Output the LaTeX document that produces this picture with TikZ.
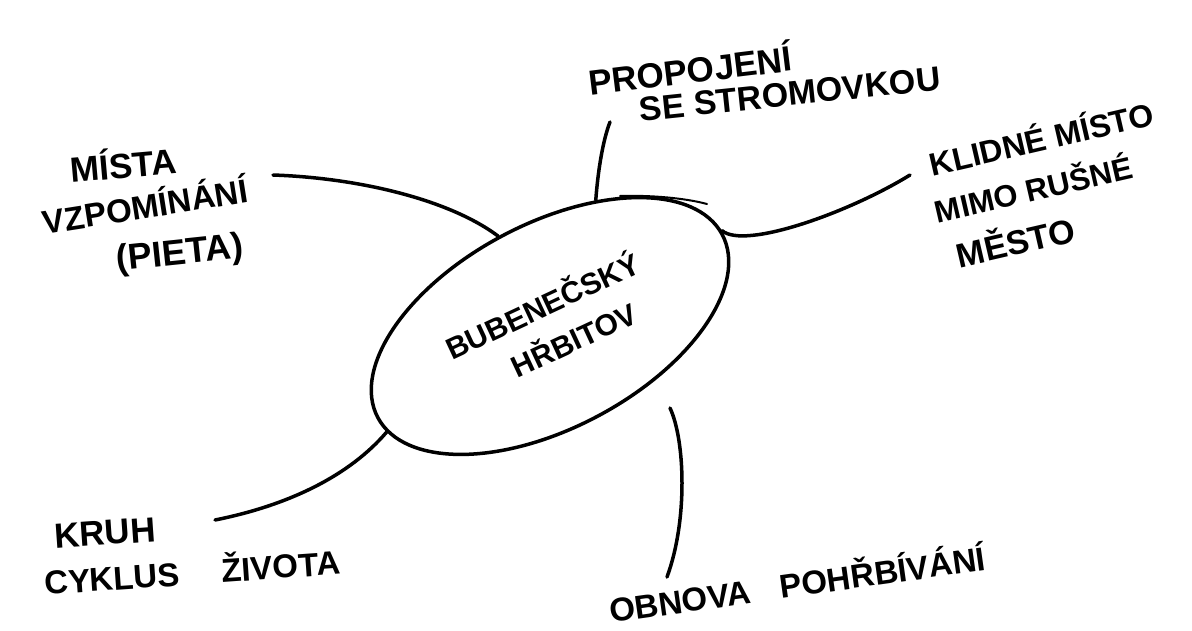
\documentclass[tikz,border=0pt]{standalone}
\usepackage{fontspec}
\setmainfont{Liberation Sans}
\usetikzlibrary{shapes.geometric}
\begin{document}
\begin{tikzpicture}[x=1pt,y=-1pt,
  lab/.style={inner sep=0pt, font=\bfseries\fontsize{#1}{#1}\selectfont},
  conn/.style={line width=3.5pt, line cap=round},
  hubstyle/.style={draw, ellipse, line width=3.5pt, minimum width=390pt, minimum height=204pt, inner sep=0pt, rotate=28}]
\useasboundingbox (0,0) rectangle (1192,630);
% central ellipse
\node[hubstyle] (hub) at (550,326) {};
\node[inner sep=0pt, align=left, rotate=25, font=\bfseries\fontsize{30}{44}\selectfont] (htext) at (551,324) {BUBENEČSKÝ\\\hspace*{52pt}HŘBITOV};
% top overshoot stroke of the ellipse
\draw[line width=2pt, line cap=round] (620,196) .. controls (650,195) and (685,198) .. (707,204);
% labels
\node[lab=35, rotate=7] (t1) at (690,68) {PROPOJENÍ};
\node[lab=34, rotate=6] (t2) at (790,94) {SE STROMOVKOU};
\node[lab=32, rotate=13] (r1) at (1041,137) {KLIDNÉ MÍSTO};
\node[lab=31, rotate=13] (r2) at (1033,187) {MIMO RUŠNÉ};
\node[lab=34, rotate=13] (r3) at (1015,240) {MĚSTO};
\node[lab=35, rotate=5] (l1) at (123,163) {MÍSTA};
\node[lab=33, rotate=9] (l2) at (145,204) {VZPOMÍNÁNÍ};
\node[lab=36, rotate=6] (l3) at (180,255) {(PIETA)};
\node[lab=35, rotate=4] (b1) at (105,533) {KRUH};
\node[lab=33, rotate=4] (b2) at (192,570) {CYKLUS\hspace{42pt}ŽIVOTA};
\node[lab=33, rotate=8] (b3) at (797,582) {OBNOVA\hspace{30pt}POHŘBÍVÁNÍ};
% connector ends
\coordinate (ctop) at (610,122);
\coordinate (cright) at (910,175);
\coordinate (cleft) at (273,175);
\coordinate (cbl) at (215,520);
\coordinate (cbs) at (670,408);
\coordinate (cbe) at (667,577);
% connectors
\draw[conn] (hub.42.6) .. controls (598,170) and (603,140) .. (ctop);
\draw[conn] (hub.1) .. controls (745,250) and (850,212) .. (cright);
\draw[conn] (hub.92) .. controls (450,200) and (360,178) .. (cleft);
\draw[conn] (hub.185) .. controls (350,475) and (290,505) .. (cbl);
\draw[conn] (cbs) .. controls (685,440) and (688,520) .. (cbe);
\end{tikzpicture}
\end{document}
